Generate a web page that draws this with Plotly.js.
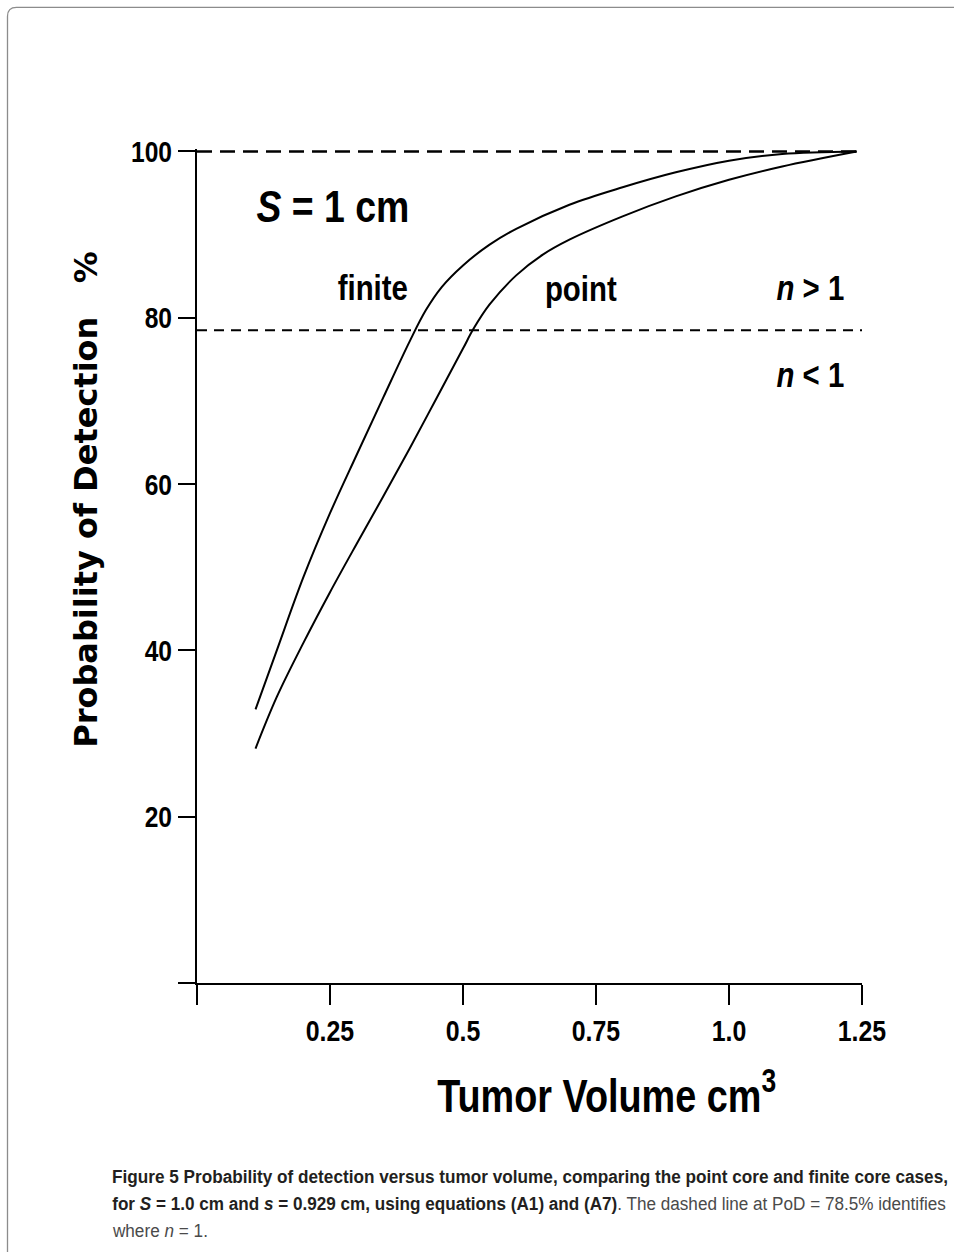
<!DOCTYPE html>
<html>
<head>
<meta charset="utf-8">
<script src="https://cdn.plot.ly/plotly-3.0.1.min.js"></script>
<style>
html,body{margin:0;padding:0;background:#fff;}
#chart{width:954px;height:1252px;}
</style>
</head>
<body>
<div id="chart"></div>
<script>
// ---- data ----
const finiteX = [0.11, 0.15, 0.20, 0.25, 0.30, 0.35, 0.40, 0.43, 0.46, 0.50, 0.55, 0.60, 0.70, 0.80, 0.90, 1.00, 1.10, 1.24];
const finiteY = [32.9, 40.0, 48.8, 56.5, 63.5, 70.4, 77.2, 80.9, 83.7, 86.3, 88.8, 90.7, 93.6, 95.7, 97.5, 98.9, 99.7, 100];
const pointX = [0.11, 0.15, 0.20, 0.25, 0.30, 0.35, 0.40, 0.45, 0.50, 0.52, 0.55, 0.60, 0.65, 0.70, 0.80, 0.90, 1.00, 1.10, 1.24];
const pointY = [28.2, 34.4, 40.9, 47.0, 52.8, 58.5, 64.3, 70.3, 76.3, 78.7, 81.6, 85.1, 87.6, 89.4, 92.2, 94.6, 96.6, 98.2, 100];
const topLevel = 100;
const topLevelX = [0, 1.24];
const nLevel = 78.5;
const nLevelX = [0, 1.25];
const xTickVals = [0.25, 0.5, 0.75, 1.0, 1.25];
const xTickText = ['0.25', '0.5', '0.75', '1.0', '1.25'];
const yTickVals = [20, 40, 60, 80, 100];
const yTickText = ['20', '40', '60', '80', '100'];

// ---- layout geometry ----
const W = 954, H = 1252;
const XL = 197, XR = 862;          // pixel of x=0 and x=1.25
const Y0 = 983.3, Y100 = 151.7;   // pixel of y=0 and y=100
const YMAX = 100.3;
const pxPerY = (Y0 - Y100) / 100;
const topPx = Y0 - YMAX * pxPerY;
const margin = {l: XL, r: W - XR, t: topPx, b: H - Y0, pad: 0};
const plotW = XR - XL, plotH = Y0 - topPx;
const px = p => (p - XL) / plotW;
const py = p => (Y0 - p) / plotH;

const SANS = '"Liberation Sans", Arial, Helvetica, sans-serif';
const WIDE = '"DejaVu Sans", "Liberation Sans", sans-serif';

const traces = [
  {x: topLevelX, y: topLevelX.map(() => topLevel), mode: 'lines', line: {color: '#000', width: 2.6, dash: '15px,8px'}, hoverinfo: 'skip', showlegend: false},
  {x: nLevelX, y: nLevelX.map(() => nLevel), mode: 'lines', line: {color: '#000', width: 2, dash: '10px,7px'}, hoverinfo: 'skip', showlegend: false},
  {x: finiteX, y: finiteY, mode: 'lines', name: 'finite', line: {color: '#000', width: 2, shape: 'spline', smoothing: 1}, showlegend: false},
  {x: pointX, y: pointY, mode: 'lines', name: 'point', line: {color: '#000', width: 2, shape: 'spline', smoothing: 1}, showlegend: false}
];

const tickFont = {family: SANS, size: 30, color: '#000', weight: 'bold'};
const lblFont = {family: SANS, size: 35, color: '#000', weight: 'bold'};
const capFont = {family: SANS, size: 19, color: '#231f20'};

const ann = [
  {xref: 'x', yref: 'y', x: 0.256, y: 93.4, text: '<i>S</i> = 1 cm', showarrow: false, font: {family: SANS, size: 44, color: '#000', weight: 'bold'}, xanchor: 'center', yanchor: 'middle'},
  {xref: 'x', yref: 'y', x: 0.331, y: 83.6, text: 'finite', showarrow: false, font: lblFont, xanchor: 'center', yanchor: 'middle'},
  {xref: 'x', yref: 'y', x: 0.722, y: 83.5, text: 'point', showarrow: false, font: lblFont, xanchor: 'center', yanchor: 'middle'},
  {xref: 'x', yref: 'y', x: 1.154, y: 83.6, text: '<i>n</i> > 1', showarrow: false, font: lblFont, xanchor: 'center', yanchor: 'middle'},
  {xref: 'x', yref: 'y', x: 1.154, y: 73.2, text: '<i>n</i> < 1', showarrow: false, font: lblFont, xanchor: 'center', yanchor: 'middle'},
  {xref: 'paper', yref: 'paper', x: px(86), y: py(500), text: 'Probability of Detection\u00A0\u00A0\u00A0%', textangle: -90, showarrow: false, font: {family: WIDE, size: 32, color: '#000', weight: 'bold'}, xanchor: 'center', yanchor: 'middle'},
  {xref: 'paper', yref: 'paper', x: px(606), y: py(1092), text: 'Tumor Volume cm<sup>3</sup>', showarrow: false, font: {family: SANS, size: 47, color: '#000', weight: 'bold'}, xanchor: 'center', yanchor: 'middle'},
  {xref: 'paper', yref: 'paper', x: px(110), y: py(1177), text: '<b>Figure 5 Probability of detection versus tumor volume, comparing the point core and finite core cases,</b>', showarrow: false, font: capFont, xanchor: 'left', yanchor: 'middle'},
  {xref: 'paper', yref: 'paper', x: px(110), y: py(1204), text: '<b>for <i>S</i> = 1.0 cm and <i>s</i> = 0.929 cm, using equations (A1) and (A7)</b><span style="color:#4a4a4a">. The dashed line at PoD = 78.5% identifies</span>', showarrow: false, font: capFont, xanchor: 'left', yanchor: 'middle'},
  {xref: 'paper', yref: 'paper', x: px(110), y: py(1231), text: '<span style="color:#4a4a4a">where <i>n</i> = 1.</span>', showarrow: false, font: capFont, xanchor: 'left', yanchor: 'middle'}
];

// rounded frame (open on right / bottom beyond the image)
const fx = 7.5, fy = 7.5, rr = 9;
const framePath = 'M ' + px(fx) + ',' + py(H + 20) +
  ' L ' + px(fx) + ',' + py(fy + rr) +
  ' Q ' + px(fx) + ',' + py(fy) + ' ' + px(fx + rr) + ',' + py(fy) +
  ' L ' + px(W + 20) + ',' + py(fy);

const layout = {
  width: W, height: H,
  margin: margin,
  paper_bgcolor: '#fff', plot_bgcolor: '#fff',
  showlegend: false,
  xaxis: {
    range: [0, 1.25], tickmode: 'array', tickvals: xTickVals, ticktext: xTickText,
    ticks: 'outside', ticklen: 20, tickwidth: 2, tickcolor: '#000',
    minor: {tickmode: 'array', tickvals: [0], ticks: 'outside', ticklen: 20, tickwidth: 2, tickcolor: '#000', showgrid: false},
    showline: true, linewidth: 2, linecolor: '#000', showgrid: false, zeroline: false,
    tickfont: tickFont, fixedrange: true
  },
  yaxis: {
    range: [0, YMAX], tickmode: 'array', tickvals: yTickVals, ticktext: yTickText,
    ticks: 'outside', ticklen: 17, tickwidth: 2, tickcolor: '#000',
    minor: {tickmode: 'array', tickvals: [0], ticks: 'outside', ticklen: 17, tickwidth: 2, tickcolor: '#000', showgrid: false},
    showline: true, linewidth: 2, linecolor: '#000', showgrid: false, zeroline: false,
    tickfont: tickFont, fixedrange: true
  },
  annotations: ann,
  shapes: [{type: 'path', xref: 'paper', yref: 'paper', path: framePath, line: {color: '#8c8c8c', width: 1.3}, layer: 'above'}]
};

// horizontal condensing so Arial-metric bold text looks like the condensed face of the original
function condense(el, sx, anchor) {
  const bb = el.getBBox();
  if (!bb.width) return;
  const ax = anchor === 'left' ? bb.x : anchor === 'right' ? bb.x + bb.width : bb.x + bb.width / 2;
  const t = el.getAttribute('transform') || '';
  el.setAttribute('transform', t + ' translate(' + ax + ',0) scale(' + sx + ',1) translate(' + (-ax) + ',0)');
}
function fitWidth(el, target, anchor) {
  const bb = el.getBBox();
  if (!bb.width) return 1;
  const s = target / bb.width;
  condense(el, s, anchor);
  return s;
}

Plotly.newPlot('chart', traces, layout, {displayModeBar: false, staticPlot: true}).then(gd => {
  gd.querySelectorAll('.xtick text').forEach(el => condense(el, 0.83, 'center'));
  gd.querySelectorAll('.ytick text').forEach(el => condense(el, 0.82, 'right'));
  const a = i => gd.querySelector('.annotation[data-index="' + i + '"] .annotation-text');
  fitWidth(a(0), 153, 'center');
  [1, 2, 3, 4].forEach(i => condense(a(i), 0.84, 'center'));
  fitWidth(a(6), 339, 'center');
  const s1 = fitWidth(a(7), 836, 'left');
  fitWidth(a(8), 834, 'left');
  condense(a(9), s1, 'left');
});
</script>
</body>
</html>
